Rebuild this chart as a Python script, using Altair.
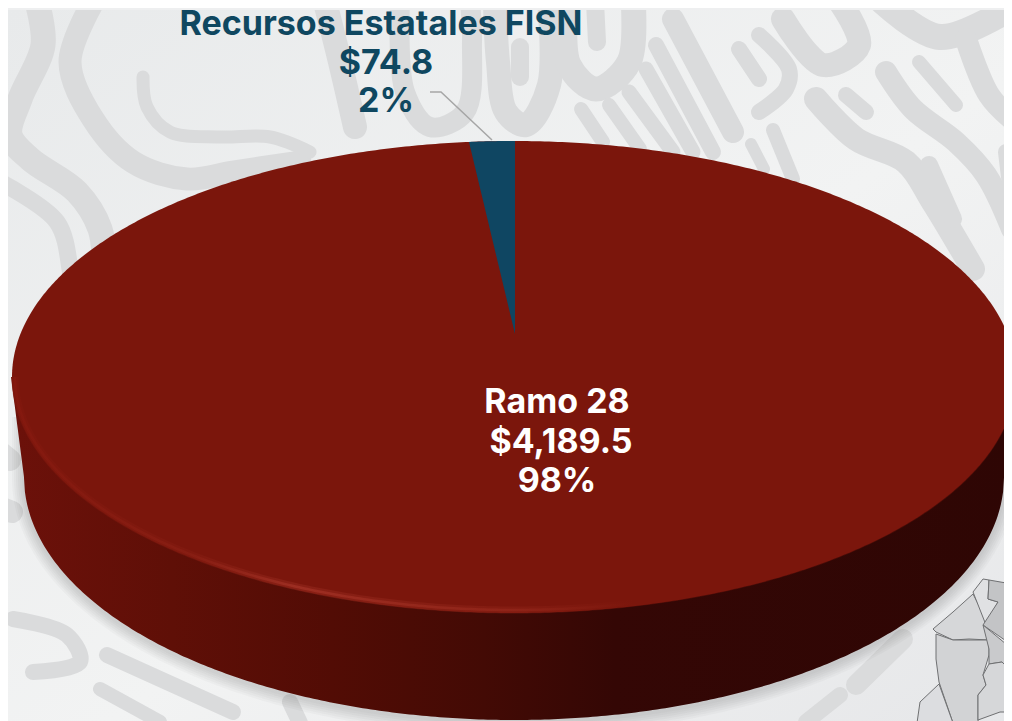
import altair as alt
import numpy as np
import pandas as pd

# ---- chart values ----
categories = ["Ramo 28", "Recursos Estatales FISN"]
amounts = [4189.5, 74.8]
amount_labels = ["$4,189.5", "$74.8"]
share_labels = ["98%", "2%"]

# ---- label lines: (text, x, baseline y, colour) ----
label_lines = [
    (categories[1], 381, 33, "#0f4760"),
    (amount_labels[1], 386, 72, "#0f4760"),
    (share_labels[1], 386, 110, "#0f4760"),
    (categories[0], 557, 411, "#ffffff"),
    (amount_labels[0], 561, 451, "#ffffff"),
    (share_labels[0], 557, 490, "#ffffff"),
]
leader_x = [430, 441, 492]
leader_y = [90, 90, 138]

# ---- pie geometry in picture units ----
CX, CY, RX, RY = 514, 375, 502, 236      # top face
LOW_CY, LOW_RX, LOW_RY = 475, 490, 243   # bottom edge of the wall
APEX_Y = 332                             # perspective centre
PERSPECTIVE = 0.815                      # narrowing of the far slice

# ---- background ornament: (stroke width, points) ----
swirls = [
    (25, [(37, 0), (43, 43), (20, 97), (10, 133), (30, 157), (77, 190), (100, 227), (104, 262)]),
    (17, [(0, 180), (57, 220), (70, 267), (72, 295)]),
    (23, [(93, 0), (70, 60), (93, 117), (133, 160), (187, 177), (233, 170), (300, 160)]),
    (13, [(143, 75), (147, 105), (170, 130), (220, 135), (270, 135), (310, 150)]),
    (24, [(325, 0), (340, 60), (355, 125)]),
    (20, [(400, 0), (405, 90), (430, 125), (465, 110), (472, 40), (470, 0)]),
    (24, [(549, 0), (549, 83), (526, 123), (506, 110), (498, 60), (495, 0)]),
    (18, [(520, 45), (520, 75)]),
    (25, [(566, 0), (569, 63), (596, 87), (629, 60), (633, 0)]),
    (18, [(595, 0), (597, 40)]),
    (22, [(673, 17), (733, 130)]),
    (16, [(656, 43), (713, 150)]),
    (15, [(646, 67), (693, 150)]),
    (15, [(629, 90), (673, 150)]),
    (14, [(609, 103), (640, 147)]),
    (14, [(581, 107), (603, 140)]),
    (14, [(773, 128), (793, 177)]),
    (12, [(751, 142), (764, 167)]),
    (16, [(739, 47), (759, 77)]),
    (16, [(759, 33), (789, 67), (786, 87), (759, 110)]),
    (24, [(783, 17), (823, 63), (859, 43), (840, 0)]),
    (26, [(883, 0), (940, 35), (1012, 5)]),
    (22, [(886, 70), (913, 107), (956, 140), (986, 173), (1012, 227)]),
    (14, [(919, 60), (956, 103)]),
    (22, [(966, 37), (989, 93), (1012, 117)]),
    (24, [(816, 97), (856, 137), (906, 160), (933, 200), (973, 267)]),
    (16, [(846, 93), (866, 110)]),
    (18, [(929, 163), (953, 217)]),
    (16, [(1006, 150), (1012, 200)]),
    (16, [(13, 617), (67, 633), (80, 660), (33, 670)]),
    (16, [(107, 653), (233, 710)]),
    (14, [(100, 687), (160, 720)]),
    (22, [(0, 450), (10, 458)]),
    (22, [(0, 505), (12, 510)]),
    (20, [(856, 683), (903, 637)]),
    (16, [(806, 720), (840, 693)]),
    (16, [(290, 700), (300, 721)]),
]

# ---- corner map outlines (picture units) ----
map_shapes = [
    ("#d6d7d9", [(933, 627), (953, 610), (973, 592), (986, 617), (989, 638), (969, 637), (953, 638), (936, 630)]),
    ("#e0e1e3", [(973, 590), (983, 577), (989, 578), (988, 597), (998, 600), (986, 623)]),
    ("#c3c4c6", [(989, 578), (1012, 582), (1012, 643), (983, 623), (998, 600), (988, 597)]),
    ("#d2d3d5", [(936, 632), (953, 638), (989, 638), (989, 653), (983, 673), (986, 683), (978, 693), (978, 721), (953, 721), (939, 680), (936, 657)]),
    ("#c9cacc", [(983, 623), (1012, 647), (1012, 673), (1002, 660), (989, 662), (989, 647)]),
    ("#d6d7d9", [(989, 662), (1002, 660), (1012, 670), (1012, 710), (1000, 710), (978, 718), (978, 693), (986, 683), (983, 673)]),
    ("#dcdde0", [(939, 682), (953, 721), (917, 721), (920, 700)]),
]

XS = alt.Scale(domain=[8, 1004], nice=False, zero=False)
YS = alt.Scale(domain=[721, 8], nice=False, zero=False)
X = alt.X("x:Q", scale=XS, axis=None)
Y = alt.Y("y:Q", scale=YS, axis=None)


def grad(stops, x1=0, x2=1, y1=0, y2=0):
    return {
        "gradient": "linear", "x1": x1, "x2": x2, "y1": y1, "y2": y2,
        "stops": [{"offset": o, "color": c} for o, c in stops],
    }


t = np.linspace(0, np.pi, 361)
cos_t, sin_t = np.cos(t), np.sin(t)

# background
bg = alt.Chart(pd.DataFrame({"x": [8], "x2": [1004], "y": [8], "y2": [721]})).mark_rect(
    color=grad([(0, "#e8eaeb"), (0.55, "#f2f3f3"), (1, "#e6e7e9")], x1=0, x2=1, y1=0, y2=1)
).encode(x=X, x2="x2:Q", y=Y, y2="y2:Q")

# ornament
rows = []
for i, (w, pts) in enumerate(swirls):
    for j, (px, py) in enumerate(pts):
        rows.append({"x": px, "y": py, "s": i, "o": j, "w": w})
orn = alt.Chart(pd.DataFrame(rows)).mark_line(
    color="#dadbdc", strokeCap="round", strokeJoin="round", interpolate="catmull-rom", clip=True
).encode(x=X, y=Y, detail="s:N", order="o:Q", strokeWidth=alt.StrokeWidth("w:Q", scale=None))

# shadow below the pie
srows = []
for k in range(1, 7):
    for c, s in zip(cos_t, sin_t):
        srows.append({
            "x": CX + (LOW_RX + k * 2) * c, "y": LOW_CY - 60,
            "y2": LOW_CY + (LOW_RY + k * 2.2) * s + 2, "k": k,
        })
shadow = alt.Chart(pd.DataFrame(srows)).mark_area(
    color="#000000", opacity=0.022, clip=True, orient="vertical"
).encode(x=X, y=Y, y2="y2:Q", detail="k:N")

# side wall
side_x = CX + (RX + 1) * cos_t
rel = np.clip((side_x - CX) / LOW_RX, -1, 1)
low = LOW_CY + LOW_RY * np.sqrt(1 - rel ** 2)
outside = np.abs(side_x - CX) > LOW_RX
low[outside] = CY + (LOW_CY - CY) * (RX + 1 - np.abs(side_x[outside] - CX)) / (RX + 1 - LOW_RX)
wall = alt.Chart(pd.DataFrame({"x": side_x, "y": np.full_like(side_x, CY), "y2": low})).mark_area(
    color=grad([(0, "#6c110a"), (0.16, "#5f0f07"), (0.32, "#520c05"), (0.47, "#430a05"),
                (0.6, "#340705"), (1, "#2e0604")]),
    clip=True, orient="vertical",
).encode(x=X, y=Y, y2="y2:Q")

# top face: the large slice
face = alt.Chart(pd.DataFrame({
    "x": CX + RX * cos_t, "y": CY - RY * sin_t, "y2": CY + RY * sin_t,
    "slice": categories[0],
})).mark_area(color="#7b160c", clip=True, orient="vertical").encode(x=X, y=Y, y2="y2:Q")

# top face: the small slice, from its share of the total
share = amounts[1] / sum(amounts)
edge_x = CX - RX * np.sin(2 * np.pi * share * PERSPECTIVE)
wx = np.linspace(edge_x, CX + 1, 20)
wtop = CY - RY * np.sqrt(1 - ((wx - CX) / RX) ** 2)
apex_x = CX + 1
wlow = APEX_Y + (wtop[0] - APEX_Y) * (apex_x - wx) / (apex_x - edge_x)
wedge = alt.Chart(pd.DataFrame({"x": wx, "y": wtop, "y2": wlow, "slice": categories[1]})).mark_area(
    color="#0f4662", clip=True, orient="vertical"
).encode(x=X, y=Y, y2="y2:Q")

# rim highlight
rim = pd.DataFrame({"x": CX + (RX - 3) * cos_t, "y": CY + (RY - 3) * sin_t})
rim_grad = grad([(0, "#86190f"), (0.18, "#8a1f14"), (0.28, "#a33226"), (0.5, "#93261a"),
                 (0.62, "#7b160c"), (1, "#7b160c")])
rim_soft = alt.Chart(rim).mark_line(stroke=rim_grad, strokeWidth=7, opacity=0.35, clip=True).encode(
    x=X, y=Y, order=alt.Order("x:Q"))
rim_hard = alt.Chart(rim).mark_line(stroke=rim_grad, strokeWidth=2.5, opacity=0.75, clip=True).encode(
    x=X, y=Y, order=alt.Order("x:Q"))

# corner map
mrows = []
for i, (fill, pts) in enumerate(map_shapes):
    for j, (px, py) in enumerate(pts + [pts[0]]):
        mrows.append({"x": px, "y": py, "s": i, "o": j, "fill": fill})
mdf = pd.DataFrame(mrows)
map_layers = [
    alt.Chart(mdf[mdf.s == i]).mark_line(stroke="#6f7072", strokeWidth=1, fill=map_shapes[i][0], clip=True)
    .encode(x=X, y=Y, order="o:Q")
    for i in range(len(map_shapes))
]

# leader line
leader = alt.Chart(pd.DataFrame({"x": leader_x, "y": leader_y, "o": [0, 1, 2]})).mark_line(
    color="#a6a6a6", strokeWidth=1.5
).encode(x=X, y=Y, order="o:Q")

# labels
labels = alt.Chart(pd.DataFrame(label_lines, columns=["t", "x", "y", "c"])).mark_text(
    font="Inter", fontWeight="bold", fontSize=34, align="center", baseline="alphabetic"
).encode(x=X, y=Y, text="t:N", color=alt.Color("c:N", scale=None))

chart = alt.layer(
    bg, orn, *map_layers, shadow, wall, face, wedge, rim_soft, rim_hard, leader, labels
).properties(width=996, height=713, padding=0, background="#eeeff0").configure_view(stroke=None)

chart.save("out.html", embed_options={"renderer": "svg", "actions": False})
